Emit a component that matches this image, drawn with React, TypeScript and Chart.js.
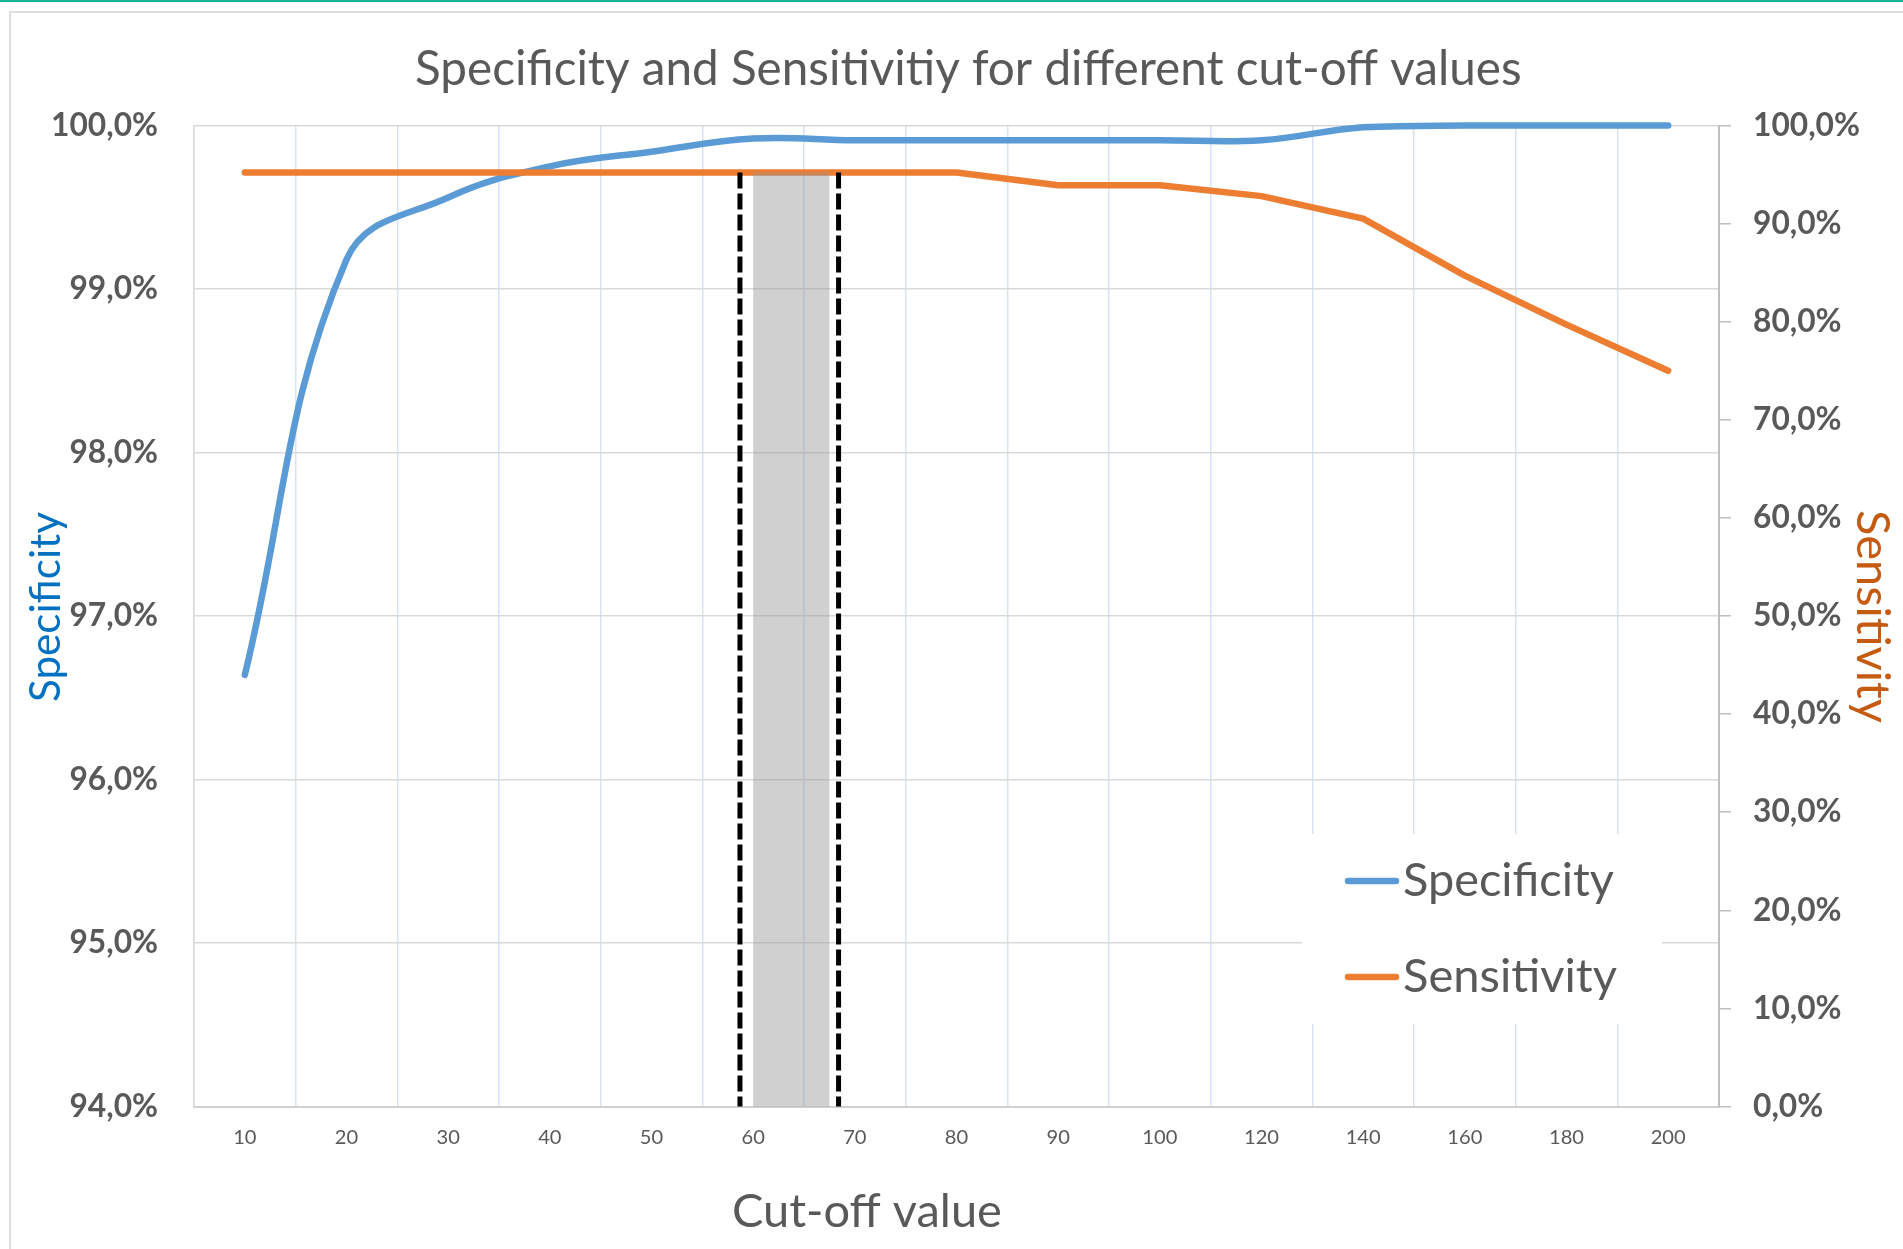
import React, { useEffect, useRef } from 'react';
import { Chart, registerables } from 'chart.js';

Chart.register(...registerables);

// ---------- data ----------
const CUTOFF_VALUES = ['10', '20', '30', '40', '50', '60', '70', '80', '90', '100', '120', '140', '160', '180', '200'];
const SPECIFICITY = [96.64, 99.18, 99.56, 99.75, 99.84, 99.92, 99.91, 99.91, 99.91, 99.91, 99.91, 99.99, 100, 100, 100];
const SENSITIVITY = [95.2, 95.2, 95.2, 95.2, 95.2, 95.2, 95.2, 95.2, 93.9, 93.9, 92.8, 90.5, 84.7, 79.7, 75.0];

const SPEC_AXIS = { min: 94, max: 100, step: 1 };
const SENS_AXIS = { min: 0, max: 100, step: 10 };

// highlighted cut-off range, in category-index units, top on the sensitivity axis
const SELECTED_BAND = [5, 5.75];
const SELECTED_MARKERS = [4.87, 5.84];
const SELECTED_TOP = 95.2;

const TITLE = 'Specificity and Sensitivitiy for different cut-off values';
const X_TITLE = 'Cut-off value';
const Y_TITLE = 'Specificity';
const Y1_TITLE = 'Sensitivity';

// ---------- style ----------
const FONT = 'Lato, "Open Sans", sans-serif';
const TEXT = '#595959';
const SPEC_COLOR = '#5B9BD5';
const SENS_COLOR = '#ED7D31';

const W = 1903;
const H = 1249;

function fitSize(ctx: CanvasRenderingContext2D, text: string, width: number, weight = 'normal') {
  ctx.font = `${weight} 100px ${FONT}`;
  return (100 * width) / ctx.measureText(text).width;
}

function pct(v: number) {
  return v.toFixed(1).replace('.', ',') + '%';
}

function drawFitted(
  ctx: CanvasRenderingContext2D,
  text: string,
  x: number,
  y: number,
  width: number,
  color: string,
  rotation = 0,
  weight = 'normal'
) {
  const size = fitSize(ctx, text, width, weight);
  ctx.save();
  ctx.translate(x, y);
  ctx.rotate(rotation);
  ctx.font = `${weight} ${size}px ${FONT}`;
  ctx.fillStyle = color;
  ctx.textAlign = 'left';
  ctx.textBaseline = 'alphabetic';
  ctx.fillText(text, 0, 0);
  ctx.restore();
}

const overlayPlugin = {
  id: 'overlay',
  afterDatasetsDraw(chart: any) {
    const { ctx, scales } = chart;
    const x = scales.x;
    const y1 = scales.y1;
    const top = y1.getPixelForValue(SELECTED_TOP);
    const bottom = y1.getPixelForValue(SENS_AXIS.min);
    const a = x.getPixelForValue(SELECTED_BAND[0]);
    const b = x.getPixelForValue(SELECTED_BAND[1]);
    ctx.save();
    ctx.fillStyle = 'rgba(150,150,150,0.45)';
    ctx.fillRect(a, top, b - a, bottom - top);
    ctx.strokeStyle = '#000000';
    ctx.lineWidth = 5;
    ctx.setLineDash([16, 5]);
    SELECTED_MARKERS.forEach((v) => {
      const px = x.getPixelForValue(v);
      ctx.beginPath();
      ctx.moveTo(px, top);
      ctx.lineTo(px, bottom);
      ctx.stroke();
    });
    ctx.restore();
  },
  afterDraw(chart: any) {
    const { ctx } = chart;
    // titles
    drawFitted(ctx, TITLE, 415, 85, 1107, TEXT);
    drawFitted(ctx, X_TITLE, 732, 1227, 270, TEXT);
    drawFitted(ctx, Y_TITLE, 60, 702, 190, '#0070C0', -Math.PI / 2);
    drawFitted(ctx, Y1_TITLE, 1857, 510, 213, '#C55A11', Math.PI / 2);

    // legend
    ctx.save();
    ctx.fillStyle = '#ffffff';
    ctx.fillRect(1302, 834, 360, 190);
    ctx.restore();
    const rows = [
      { ds: chart.data.datasets[0], lineY: 881, base: 896, width: 211 },
      { ds: chart.data.datasets[1], lineY: 977, base: 992, width: 214 },
    ];
    rows.forEach((r) => {
      ctx.save();
      ctx.strokeStyle = r.ds.borderColor;
      ctx.lineWidth = 6.5;
      ctx.lineCap = 'round';
      ctx.beginPath();
      ctx.moveTo(1348, r.lineY);
      ctx.lineTo(1396, r.lineY);
      ctx.stroke();
      ctx.restore();
      drawFitted(ctx, r.ds.label, 1403, r.base, r.width, TEXT);
    });
  },
};

export default function App() {
  const canvasRef = useRef<HTMLCanvasElement | null>(null);

  useEffect(() => {
    const canvas = canvasRef.current;
    if (!canvas) return;
    const measure = document.createElement('canvas').getContext('2d') as CanvasRenderingContext2D;
    const yTickSize = fitSize(measure, '100,0%', 107, 'bold');
    const xTickSize = fitSize(measure, '200', 35);

    const chart = new Chart(canvas, {
      type: 'line',
      data: {
        labels: CUTOFF_VALUES,
        datasets: [
          {
            label: 'Specificity',
            data: SPECIFICITY,
            yAxisID: 'y',
            borderColor: SPEC_COLOR,
            backgroundColor: SPEC_COLOR,
            borderWidth: 6.5,
            pointRadius: 0,
            tension: 0.4,
            borderCapStyle: 'round',
            borderJoinStyle: 'round',
            clip: 10,
            order: 1,
          },
          {
            label: 'Sensitivity',
            data: SENSITIVITY,
            yAxisID: 'y1',
            borderColor: SENS_COLOR,
            backgroundColor: SENS_COLOR,
            borderWidth: 6.5,
            pointRadius: 0,
            tension: 0,
            borderCapStyle: 'round',
            borderJoinStyle: 'round',
            clip: 10,
            order: 0,
          },
        ],
      },
      options: {
        animation: false,
        responsive: false,
        maintainAspectRatio: false,
        events: [],
        layout: { padding: { top: 125.5, left: 0, right: 0, bottom: 0 } },
        plugins: {
          legend: { display: false },
          title: { display: false },
          tooltip: { enabled: false },
        },
        scales: {
          x: {
            type: 'category',
            offset: true,
            grid: { offset: true, color: '#d5e3f4', lineWidth: 1.5, drawTicks: false },
            border: { color: '#d0d0d0', width: 2 },
            ticks: {
              font: { family: FONT, size: xTickSize },
              color: TEXT,
              padding: 19,
              maxRotation: 0,
              autoSkip: false,
            },
            afterFit: (s: any) => {
              s.height = 142.5;
            },
          },
          y: {
            position: 'left',
            min: SPEC_AXIS.min,
            max: SPEC_AXIS.max,
            ticks: {
              stepSize: SPEC_AXIS.step,
              callback: (v: any) => pct(Number(v)),
              font: { family: FONT, size: yTickSize, weight: 'bold' },
              color: TEXT,
              padding: 36,
            },
            grid: { color: '#d9d9d9', lineWidth: 1.5, drawTicks: false },
            border: { color: '#d9d9d9', width: 1.5 },
            afterFit: (s: any) => {
              s.width = 194;
            },
          },
          y1: {
            position: 'right',
            min: SENS_AXIS.min,
            max: SENS_AXIS.max,
            ticks: {
              stepSize: SENS_AXIS.step,
              callback: (v: any) => pct(Number(v)),
              font: { family: FONT, size: yTickSize, weight: 'bold' },
              color: TEXT,
              padding: 22,
            },
            grid: { drawOnChartArea: false, drawTicks: true, tickLength: 12, color: '#bfbfbf', lineWidth: 1.5 },
            border: { color: '#bfbfbf', width: 2 },
            afterFit: (s: any) => {
              s.width = 184;
            },
          },
        },
      } as any,
      plugins: [overlayPlugin],
    });

    return () => {
      chart.destroy();
    };
  }, []);

  return (
    <div style={{ position: 'absolute', left: 0, top: 0, width: W, height: H, background: '#ffffff', overflow: 'hidden' }}>
      <div style={{ position: 'absolute', left: 0, top: 0, width: W, height: 2, background: '#17b294' }} />
      <div
        style={{
          position: 'absolute',
          left: 9,
          top: 11,
          width: W,
          height: H,
          borderLeft: '2px solid #dedede',
          borderTop: '2px solid #dedede',
        }}
      />
      <canvas ref={canvasRef} width={W} height={H} style={{ position: 'absolute', left: 0, top: 0, width: W, height: H }} />
    </div>
  );
}
